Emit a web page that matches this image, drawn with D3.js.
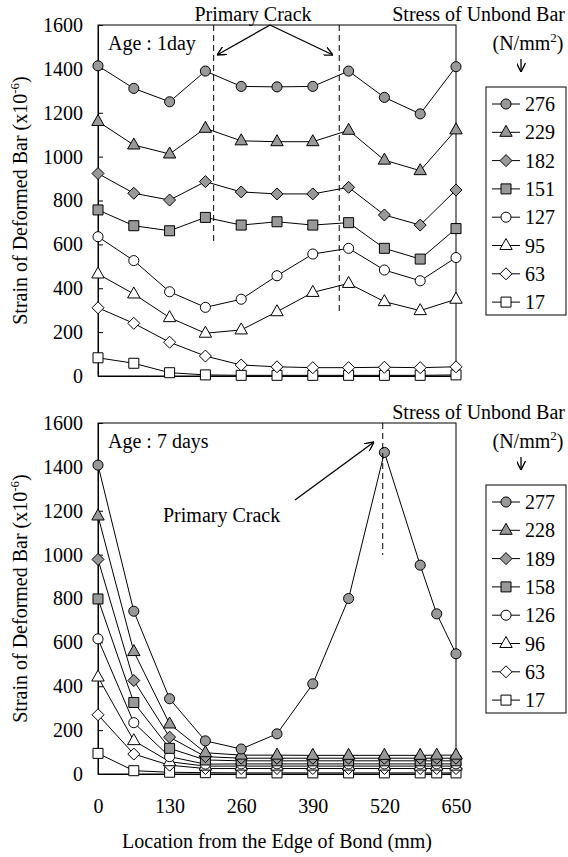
<!DOCTYPE html>
<html>
<head>
<meta charset="utf-8">
<script src="https://cdnjs.cloudflare.com/ajax/libs/d3/7.8.5/d3.min.js"></script>
<style>
  body { margin: 0; background: #fff; }
  svg, svg text { font-family: "Liberation Serif", "Times New Roman", serif; fill: #000; }
</style>
</head>
<body>
<svg width="568" height="857"></svg>
<script>
// location of gauges (mm)
var loc1 = [0, 65, 130, 195, 260, 325, 390, 455, 520, 585, 650];
var loc7 = [0, 65, 130, 195, 260, 325, 390, 455, 520, 585, 615, 650];

// stress of unbond bar (N/mm2) -> legend labels
var stress1 = ["276", "229", "182", "151", "127", "95", "63", "17"];
var stress7 = ["277", "228", "189", "158", "126", "96", "63", "17"];

// marker shape / fill per series (same order both panels)
var shapes = ["circle", "triangle", "diamond", "square", "circle", "triangle", "diamond", "square"];
var fills = ["#999", "#999", "#999", "#999", "#fff", "#fff", "#fff", "#fff"];

// strain (x10^-6), age 1 day
var day1 = [
  [1414, 1311, 1250, 1390, 1320, 1318, 1320, 1390, 1270, 1195, 1410],
  [1160, 1053, 1012, 1129, 1072, 1068, 1068, 1120, 984, 936, 1122],
  [923, 833, 802, 886, 839, 830, 830, 860, 734, 688, 848],
  [757, 685, 662, 723, 688, 703, 688, 699, 582, 533, 672],
  [635, 526, 384, 313, 350, 457, 556, 582, 483, 434, 540],
  [465, 374, 266, 195, 210, 293, 381, 422, 339, 298, 350],
  [311, 240, 154, 91, 50, 42, 38, 38, 40, 38, 42],
  [83, 58, 15, 5, 3, 3, 3, 3, 3, 3, 5]
];

// strain (x10^-6), age 7 days
var day7 = [
  [1408, 742, 343, 151, 114, 183, 411, 800, 1466, 952, 730, 548],
  [1176, 558, 228, 97, 86, 86, 85, 85, 85, 85, 86, 86],
  [978, 426, 168, 79, 72, 72, 72, 72, 72, 72, 72, 72],
  [798, 326, 117, 64, 60, 60, 60, 60, 60, 60, 60, 60],
  [616, 234, 79, 45, 46, 46, 46, 46, 46, 46, 46, 46],
  [442, 152, 56, 36, 36, 36, 36, 36, 36, 36, 36, 36],
  [270, 91, 40, 25, 25, 25, 25, 25, 25, 25, 25, 25],
  [94, 15, 8, 6, 5, 5, 5, 5, 5, 5, 5, 5]
];

var yTicks = [0, 200, 400, 600, 800, 1000, 1200, 1400, 1600];
var xTicks = [0, 130, 260, 390, 520, 650];

var FONT = "'Liberation Serif', 'Times New Roman', serif";
var svg = d3.select("svg");

svg.append("defs").append("marker")
    .attr("id", "arr")
    .attr("viewBox", "0 0 10 10")
    .attr("refX", 10).attr("refY", 5)
    .attr("markerWidth", 9).attr("markerHeight", 9)
    .attr("markerUnits", "userSpaceOnUse")
    .attr("orient", "auto")
  .append("path")
    .attr("d", "M0,0 L10,5 L0,10")
    .attr("fill", "none")
    .attr("stroke", "#000")
    .attr("stroke-width", 1.5);

var x = d3.scaleLinear().domain([0, 650]).range([98, 456]);

function markerPath(shape) {
  if (shape == "circle") return d3.symbol(d3.symbolCircle, 80)();
  if (shape == "square") return "M-5,-5L5,-5L5,5L-5,5Z";
  if (shape == "diamond") return "M0,-6L6,0L0,6L-6,0Z";
  return "M0,-7L6.2,4L-6.2,4Z";
}

function drawPanel(top, bottom, locs, data, labels, showX) {
  var y = d3.scaleLinear().domain([0, 1600]).range([bottom, top]);

  // frame
  svg.append("rect")
      .attr("x", 98).attr("y", top)
      .attr("width", 456 - 98).attr("height", bottom - top)
      .attr("fill", "none").attr("stroke", "#000").attr("stroke-width", 1);

  var ya = svg.append("g")
      .attr("transform", "translate(98,0)")
      .call(d3.axisLeft(y).tickValues(yTicks).tickFormat(d3.format("d"))
        .tickSizeInner(-5).tickSizeOuter(0).tickPadding(15));
  ya.attr("font-family", FONT).attr("font-size", 20);

  var xa = svg.append("g")
      .attr("transform", "translate(0," + bottom + ")")
      .call(d3.axisBottom(x).tickValues(xTicks).tickFormat(d3.format("d"))
        .tickSizeInner(-5).tickSizeOuter(0).tickPadding(25));
  xa.attr("font-family", FONT).attr("font-size", 20);
  if (!showX) xa.selectAll("text").remove();
  svg.selectAll(".domain").attr("stroke", "#000");

  var line = d3.line()
      .x(function(d, i) { return x(locs[i]); })
      .y(function(d) { return y(d); });

  // lines (draw from lowest series upward)
  for (var s = data.length - 1; s >= 0; s--) {
    svg.append("path")
        .attr("d", line(data[s]))
        .attr("fill", "none")
        .attr("stroke", "#000")
        .attr("stroke-width", 1);
  }
  for (var s = data.length - 1; s >= 0; s--) {
    svg.append("g").selectAll("path")
        .data(data[s])
        .enter()
        .append("path")
        .attr("d", markerPath(shapes[s]))
        .attr("transform", function(d, i) { return "translate(" + x(locs[i]) + "," + y(d) + ")"; })
        .attr("fill", fills[s])
        .attr("stroke", "#000")
        .attr("stroke-width", 1);
  }

  // y title
  var yt = svg.append("text")
      .attr("transform", "translate(27," + ((top + bottom) / 2) + ") rotate(-90)")
      .attr("text-anchor", "middle")
      .style("font-size", "20px");
  yt.append("tspan").text("Strain of Deformed Bar (x10");
  yt.append("tspan").attr("dy", -8).style("font-size", "13px").text("-6");
  yt.append("tspan").attr("dy", 8).text(")");

  // legend header
  svg.append("text")
      .attr("x", 565).attr("y", top - 4)
      .attr("text-anchor", "end")
      .style("font-size", "20px")
      .text("Stress of Unbond Bar");
  var nm = svg.append("text")
      .attr("x", 528).attr("y", top + 25)
      .attr("text-anchor", "middle")
      .style("font-size", "20px");
  nm.append("tspan").text("(N/mm");
  nm.append("tspan").attr("dy", -8).style("font-size", "13px").text("2");
  nm.append("tspan").attr("dy", 8).text(")");
  svg.append("line")
      .attr("x1", 521).attr("x2", 521)
      .attr("y1", top + 34).attr("y2", top + 47)
      .attr("stroke", "#000").attr("stroke-width", 1.3)
      .attr("marker-end", "url(#arr)");

  // legend box
  var ly0 = top + 62;
  svg.append("rect")
      .attr("x", 486).attr("y", ly0)
      .attr("width", 80).attr("height", 228)
      .attr("fill", "#fff").attr("stroke", "#000").attr("stroke-width", 1);
  labels.forEach(function(lab, i) {
    var ly = ly0 + 17 + i * 28.3;
    svg.append("line")
        .attr("x1", 492).attr("x2", 520)
        .attr("y1", ly).attr("y2", ly)
        .attr("stroke", "#000").attr("stroke-width", 1);
    svg.append("path")
        .attr("d", markerPath(shapes[i]))
        .attr("transform", "translate(506," + ly + ")")
        .attr("fill", fills[i]).attr("stroke", "#000");
    svg.append("text")
        .attr("x", 525).attr("y", ly + 7)
        .style("font-size", "20px")
        .text(lab);
  });
  return y;
}

// ---- top panel: age 1 day ----
var y1 = drawPanel(25, 376, loc1, day1, stress1, false);

svg.append("text").attr("x", 108).attr("y", 50).style("font-size", "20px").text("Age : 1day");

svg.append("line").attr("x1", x(210)).attr("x2", x(210)).attr("y1", 25).attr("y2", 245)
    .attr("stroke", "#000").attr("stroke-dasharray", "6,4");
svg.append("line").attr("x1", x(438)).attr("x2", x(438)).attr("y1", 25).attr("y2", 312)
    .attr("stroke", "#000").attr("stroke-dasharray", "6,4");

svg.append("text").attr("x", 253).attr("y", 21).attr("text-anchor", "middle")
    .style("font-size", "20px").text("Primary Crack");
svg.append("line").attr("x1", 270).attr("y1", 25).attr("x2", 217).attr("y2", 55)
    .attr("stroke", "#000").attr("stroke-width", 1.3).attr("marker-end", "url(#arr)");
svg.append("line").attr("x1", 270).attr("y1", 25).attr("x2", 333).attr("y2", 55)
    .attr("stroke", "#000").attr("stroke-width", 1.3).attr("marker-end", "url(#arr)");

// ---- bottom panel: age 7 days ----
var y7 = drawPanel(423, 774, loc7, day7, stress7, true);

svg.append("text").attr("x", 108).attr("y", 448).style("font-size", "20px").text("Age : 7 days");

svg.append("line").attr("x1", x(517)).attr("x2", x(517)).attr("y1", 423).attr("y2", 555)
    .attr("stroke", "#000").attr("stroke-dasharray", "6,4");
svg.append("text").attr("x", 163).attr("y", 522).style("font-size", "20px").text("Primary Crack");
svg.append("line").attr("x1", 295).attr("y1", 500).attr("x2", 374).attr("y2", 442)
    .attr("stroke", "#000").attr("stroke-width", 1.3).attr("marker-end", "url(#arr)");

svg.append("text")
    .attr("x", 277).attr("y", 848)
    .attr("text-anchor", "middle")
    .style("font-size", "20px")
    .text("Location from the Edge of Bond (mm)");
</script>
</body>
</html>
